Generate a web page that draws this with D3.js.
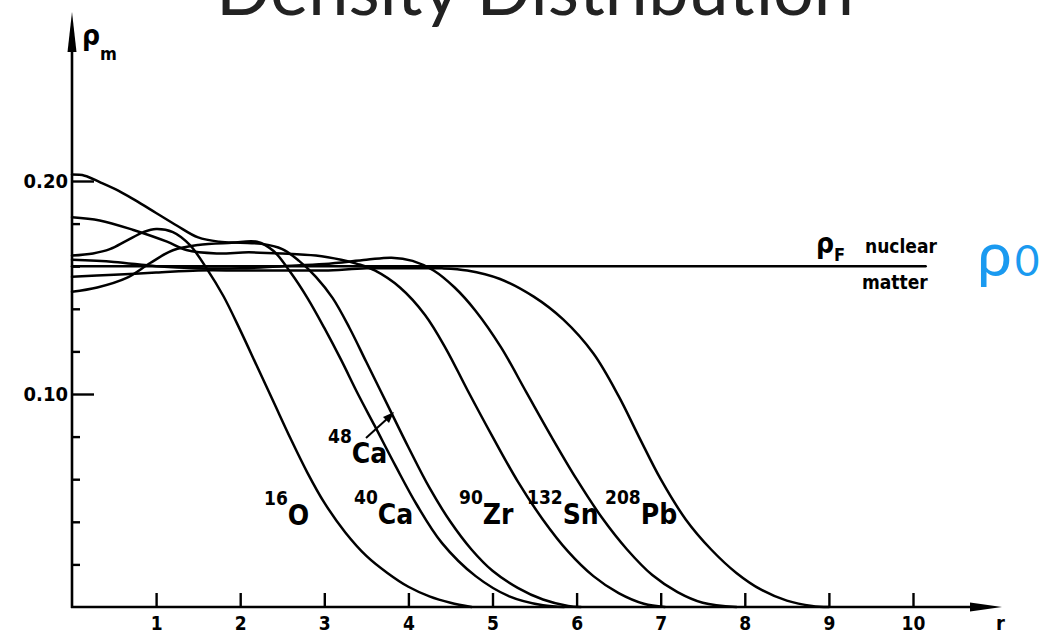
<!DOCTYPE html>
<html lang="en">
<head>
<meta charset="UTF-8">
<title>Density Distribution</title>
<style>
  body { margin: 0; background: #fff; }
  .lbl { font-family: "DejaVu Sans Condensed", "DejaVu Sans", sans-serif; font-weight: bold; fill: #000; }
  .curve { fill: none; stroke: #000; stroke-width: 2.5px; stroke-linejoin: round; stroke-linecap: round; }
  .axis line { stroke: #000; stroke-width: 2.4px; }
  .axis text { font-family: "DejaVu Sans Condensed", "DejaVu Sans", sans-serif; font-weight: bold; font-size: 19px; fill: #000; }
</style>
<script src="https://d3js.org/d3.v7.min.js"></script>
</head>
<body>
<div id="chart"></div>
<script>
const width = 1058, height = 634;

// [r (fm), rho_m (fm^-3)]
const o16 = [[0,0.165],[0.25,0.166],[0.45,0.168],[0.65,0.172],[0.85,0.176],[1.0,0.1775],[1.2,0.176],[1.4,0.170],
  [1.6,0.159],[1.8,0.146],[2.0,0.130],[2.2,0.113],[2.4,0.096],[2.6,0.079],[2.8,0.063],[3.0,0.049],
  [3.25,0.035],[3.5,0.024],[3.75,0.016],[4.0,0.0095],[4.25,0.005],[4.5,0.002],[4.75,0]];
const ca40 = [[0,0.148],[0.3,0.150],[0.65,0.1545],[0.93,0.1615],[1.2,0.1675],[1.5,0.170],[1.9,0.171],[2.2,0.1715],
  [2.4,0.167],[2.6,0.157],[2.8,0.145],[3.0,0.131],[3.2,0.116],[3.4,0.100],[3.6,0.085],[3.85,0.066],
  [4.1,0.048],[4.4,0.030],[4.8,0.0145],[5.2,0.005],[5.6,0.0008],[5.85,0]];
const ca48 = [[0,0.203],[0.15,0.2025],[0.33,0.1995],[0.55,0.1955],[0.75,0.191],[1.0,0.185],[1.25,0.179],[1.5,0.1735],
  [1.75,0.1715],[2.0,0.171],[2.25,0.1705],[2.5,0.168],[2.7,0.1625],[2.9,0.155],[3.1,0.145],[3.3,0.131],
  [3.5,0.115],[3.75,0.095],[4.0,0.075],[4.25,0.056],[4.5,0.040],[4.75,0.027],[5.0,0.017],[5.3,0.009],
  [5.6,0.0035],[5.9,0.0005],[6.05,0]];
const zr90 = [[0,0.183],[0.33,0.1815],[0.73,0.177],[1.13,0.1715],[1.36,0.1676],[1.72,0.166],[2.1,0.1665],[2.5,0.166],
  [2.9,0.165],[3.2,0.163],[3.4,0.161],[3.6,0.158],[3.9,0.150],[4.2,0.137],[4.45,0.121],[4.7,0.102],[5.0,0.080],
  [5.3,0.059],[5.6,0.041],[5.9,0.026],[6.2,0.0145],[6.5,0.0065],[6.8,0.0015],[7.05,0]];
const sn132 = [[0,0.163],[0.5,0.162],[1.0,0.160],[1.5,0.159],[2.0,0.159],[2.5,0.160],[3.0,0.161],[3.5,0.163],
  [3.8,0.164],[4.05,0.1625],[4.3,0.158],[4.55,0.150],[4.8,0.139],[5.1,0.122],[5.4,0.101],[5.7,0.080],
  [6.0,0.060],[6.3,0.042],[6.6,0.027],[6.9,0.015],[7.2,0.007],[7.5,0.002],[7.9,0]];
const pb208 = [[0,0.155],[0.5,0.156],[1.0,0.157],[1.5,0.158],[2.0,0.158],[2.5,0.158],[3.0,0.158],[3.5,0.159],
  [4.0,0.159],[4.4,0.159],[4.7,0.158],[5.09,0.154],[5.49,0.1457],[5.84,0.135],[6.2,0.119],[6.5,0.099],
  [6.74,0.080],[7.0,0.060],[7.3,0.041],[7.6,0.027],[7.9,0.016],[8.2,0.008],[8.5,0.003],[8.8,0.0005],[9.0,0]];
const nuclearMatter = [[0,0.16],[10.15,0.16]];

const curves = [o16, ca40, ca48, zr90, sn132, pb208];
const xTicks = [1,2,3,4,5,6,7,8,9,10];
const yMajor = [0.10, 0.20];
const yMinor = [0.02,0.04,0.06,0.08,0.12,0.14,0.16,0.18];

const svg = d3.select("#chart").append("svg")
  .attr("width", width)
  .attr("height", height)
  .style("display", "block");

svg.append("rect").attr("width", width).attr("height", height).attr("fill", "#fff");

const x = d3.scaleLinear().domain([0, 10]).range([72, 913]);
const y = d3.scaleLinear().domain([0, 0.2]).range([607, 181]);

// title, cut at the top edge like the slide
svg.append("text")
  .attr("x", 535).attr("y", 15)
  .attr("text-anchor", "middle")
  .style("font-family", "Lato, sans-serif")
  .style("font-size", "72px")
  .style("fill", "#222")
  .text("Density Distribution");

// axes lines with arrows
svg.append("line").attr("x1", x(0)).attr("x2", x(0)).attr("y1", y(0) + 1).attr("y2", 40)
  .attr("stroke", "#000").attr("stroke-width", 2.6);
svg.append("path").attr("d", `M${x(0)},12 L${x(0) - 4.5},52 L${x(0) + 4.5},52 Z`).attr("fill", "#000");
svg.append("line").attr("x1", x(0) - 1).attr("x2", 980).attr("y1", y(0)).attr("y2", y(0))
  .attr("stroke", "#000").attr("stroke-width", 2.6);
svg.append("path").attr("d", `M1002,${y(0)} L970,${y(0) - 4.5} L970,${y(0) + 4.5} Z`).attr("fill", "#000");

// x ticks point up into the plot, labels below
svg.append("g").attr("class", "axis")
  .attr("transform", `translate(0,${y(0)})`)
  .call(d3.axisBottom(x).tickValues(xTicks).tickSizeInner(-14).tickSizeOuter(0).tickPadding(10)
    .tickFormat(d3.format("d")))
  .call(g => g.select(".domain").remove());

svg.append("g").attr("class", "axis")
  .attr("transform", `translate(${x(0)},0)`)
  .call(d3.axisLeft(y).tickValues(yMinor).tickSizeInner(-8).tickSizeOuter(0).tickFormat(""))
  .call(g => g.select(".domain").remove());

svg.append("g").attr("class", "axis")
  .attr("transform", `translate(${x(0)},0)`)
  .call(d3.axisLeft(y).tickValues(yMajor).tickSizeInner(-22).tickSizeOuter(0).tickPadding(4)
    .tickFormat(d3.format(".2f")))
  .call(g => g.select(".domain").remove())
  .call(g => g.selectAll("text").style("font-size", "20px"));

svg.append("text").attr("class", "lbl").attr("x", 996).attr("y", 630).style("font-size", "20px").text("r");

// rho_m axis title
const ym = svg.append("text").attr("class", "lbl").attr("x", 82).attr("y", 45).style("font-size", "28px");
ym.append("tspan").text("ρ");
ym.append("tspan").attr("dy", 15).style("font-size", "18px").text("m");

// density curves
const line = d3.line()
  .x(d => x(d[0]))
  .y(d => y(d[1]))
  .curve(d3.curveCatmullRom.alpha(0.5));

svg.selectAll(".curve")
  .data(curves)
  .join("path")
  .attr("class", "curve")
  .attr("d", line);

svg.append("path").datum(nuclearMatter).attr("class", "curve").attr("d", line);

// nuclear matter label
const rf = svg.append("text").attr("class", "lbl").attr("x", 816).attr("y", 253).style("font-size", "28px");
rf.append("tspan").text("ρ");
rf.append("tspan").attr("dy", 8).style("font-size", "18px").text("F");
svg.append("text").attr("class", "lbl").attr("x", 865).attr("y", 253).style("font-size", "19px").text("nuclear");
svg.append("text").attr("class", "lbl").attr("x", 862).attr("y", 289).style("font-size", "19px").text("matter");

const r0 = svg.append("text").attr("x", 977).attr("y", 276)
  .style("font-family", "Lato, sans-serif").style("fill", "#1a9af0");
r0.append("tspan").style("font-size", "62px").text("ρ");
r0.append("tspan").attr("dx", 3).style("font-size", "42px").text("0");

// isotope labels
const isotopes = [
  { mass: "16", el: "O", x: 264, y: 525 },
  { mass: "48", el: "Ca", x: 328, y: 463 },
  { mass: "40", el: "Ca", x: 354, y: 524 },
  { mass: "90", el: "Zr", x: 459, y: 524 },
  { mass: "132", el: "Sn", x: 527, y: 524 },
  { mass: "208", el: "Pb", x: 605, y: 524 }
];
isotopes.forEach(d => {
  const t = svg.append("text").attr("class", "lbl").attr("x", d.x).attr("y", d.y - 20);
  t.append("tspan").style("font-size", "19px").text(d.mass);
  t.append("tspan").attr("dy", 20).style("font-size", "28px").text(d.el);
});

// arrow to the 48Ca curve
svg.append("line").attr("x1", 366).attr("y1", 438).attr("x2", 388).attr("y2", 418)
  .attr("stroke", "#000").attr("stroke-width", 2);
svg.append("path").attr("d", "M394,412 L383,417 L389,423 Z").attr("fill", "#000");
</script>
</body>
</html>
